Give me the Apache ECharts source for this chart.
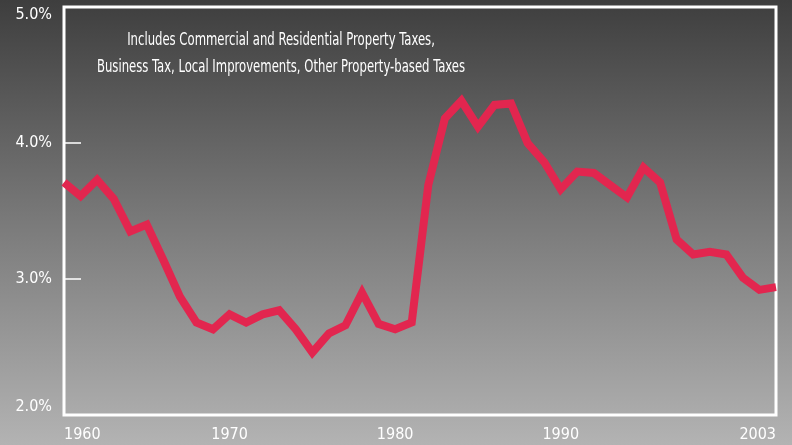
<!DOCTYPE html>
<html>
<head>
<meta charset="utf-8">
<title>Property taxes</title>
<script src="https://cdn.jsdelivr.net/npm/echarts@6/dist/echarts.min.js"></script>
<style>
  html, body { margin: 0; padding: 0; }
</style>
</head>
<body>
<div id="main" style="width: 792px;height:445px;"></div>
<script type="text/javascript">
// data
var years = [1960, 1961, 1962, 1963, 1964, 1965, 1966, 1967, 1968, 1969,
             1970, 1971, 1972, 1973, 1974, 1975, 1976, 1977, 1978, 1979,
             1980, 1981, 1982, 1983, 1984, 1985, 1986, 1987, 1988, 1989,
             1990, 1991, 1992, 1993, 1994, 1995, 1996, 1997, 1998, 1999,
             2000, 2001, 2002, 2003];
var share = [3.71, 3.61, 3.73, 3.59, 3.35, 3.40, 3.14, 2.87, 2.68, 2.63,
             2.74, 2.68, 2.74, 2.77, 2.63, 2.46, 2.60, 2.66, 2.90, 2.67,
             2.63, 2.68, 3.69, 4.18, 4.31, 4.12, 4.28, 4.29, 4.00, 3.86,
             3.66, 3.79, 3.78, 3.69, 3.60, 3.82, 3.71, 3.29, 3.18, 3.20,
             3.18, 3.01, 2.92, 2.94];
var xLabels = [1960, 1970, 1980, 1990, 2003];
var note = 'Includes Commercial and Residential Property Taxes,\nBusiness Tax, Local Improvements, Other Property-based Taxes';

var points = [];
for (var i = 0; i < years.length; i++) {
    points.push([years[i], share[i]]);
}

var myChart = echarts.init(document.getElementById('main'));
var font = '"DejaVu Sans Condensed", "DejaVu Sans", sans-serif';

var option = {
    animation: false,
    backgroundColor: {
        type: 'linear', x: 0, y: 0, x2: 0, y2: 1,
        colorStops: [
            { offset: 0, color: '#3e3e3e' },
            { offset: 0.5, color: '#7a7a7a' },
            { offset: 1, color: '#b3b3b3' }
        ]
    },
    // condensed caption, squeezed horizontally like the original type
    graphic: [{
        type: 'text',
        x: 281,
        y: 27,
        scaleX: 0.72,
        z: 10,
        style: {
            text: note,
            fill: '#ffffff',
            font: '18px ' + font,
            lineHeight: 27,
            textAlign: 'center',
            textVerticalAlign: 'top'
        }
    }],
    grid: {
        left: 64, right: 16, top: 7, bottom: 30,
        show: true,
        borderColor: '#ffffff',
        borderWidth: 3,
        containLabel: false
    },
    xAxis: {
        type: 'value',
        min: 1960,
        max: 2003,
        splitLine: { show: false },
        axisLine: { show: false },
        axisTick: { show: false },
        axisLabel: {
            customValues: xLabels,
            color: '#ffffff',
            fontSize: 16,
            fontFamily: font,
            margin: 12,
            alignMinLabel: 'left',
            alignMaxLabel: 'right',
            formatter: function (v) { return String(v); }
        }
    },
    yAxis: {
        type: 'value',
        min: 2,
        max: 5,
        interval: 1,
        splitLine: { show: false },
        axisLine: { show: false },
        axisTick: {
            show: true,
            inside: true,
            length: 17,
            lineStyle: { color: '#ffffff', width: 1.5 }
        },
        axisLabel: {
            color: '#ffffff',
            fontSize: 16,
            fontFamily: font,
            margin: 12,
            verticalAlignMinLabel: 'bottom',
            verticalAlignMaxLabel: 'top',
            formatter: function (v) { return v.toFixed(1) + '%'; }
        }
    },
    series: [{
        type: 'line',
        data: points,
        showSymbol: false,
        lineStyle: { color: '#e2264f', width: 8, join: 'miter' },
        itemStyle: { color: '#e2264f' }
    }]
};

myChart.setOption(option);
</script>
</body>
</html>
